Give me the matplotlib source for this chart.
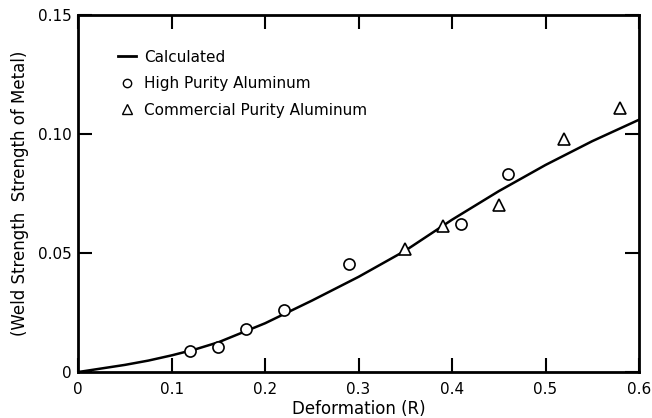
import matplotlib.pyplot as plt
from matplotlib.lines import Line2D

# calculated curve
calc_x = [0.0, 0.025, 0.05, 0.075, 0.10, 0.125, 0.15, 0.175, 0.20, 0.25, 0.30, 0.35, 0.40, 0.45, 0.50, 0.55, 0.60]
calc_y = [0.0, 0.0015, 0.003, 0.0048, 0.007, 0.0095, 0.0125, 0.0165, 0.0205, 0.030, 0.040, 0.051, 0.064, 0.076, 0.087, 0.097, 0.106]

# high purity aluminum (circles)
hp_x = [0.12, 0.15, 0.18, 0.22, 0.29, 0.41, 0.46]
hp_y = [0.009, 0.0105, 0.018, 0.026, 0.0455, 0.062, 0.083]

# commercial purity aluminum (triangles)
cp_x = [0.35, 0.39, 0.45, 0.52, 0.58]
cp_y = [0.0515, 0.0615, 0.070, 0.098, 0.111]

plt.rcParams['font.family'] = 'DejaVu Sans'
fig = plt.figure(figsize=(6.52, 4.18), dpi=100)
ax = fig.add_axes([0.12, 0.11, 0.86, 0.854])

ax.plot(calc_x, calc_y, color='black', lw=1.8)
ax.plot(hp_x, hp_y, 'o', mfc='white', mec='black', ms=8, mew=1.2)
ax.plot(cp_x, cp_y, '^', mfc='white', mec='black', ms=9, mew=1.2)

ax.set_xlim(0, 0.6)
ax.set_ylim(0, 0.15)
ax.set_xticks([0, 0.1, 0.2, 0.3, 0.4, 0.5, 0.6])
ax.set_xticklabels(['0', '0.1', '0.2', '0.3', '0.4', '0.5', '0.6'])
ax.set_yticks([0, 0.05, 0.10, 0.15])
ax.set_yticklabels(['0', '0.05', '0.10', '0.15'])
ax.tick_params(direction='in', length=10, width=1.5, labelsize=11,
               top=True, right=True)
ax.tick_params(axis='x', pad=7)
ax.tick_params(axis='y', pad=5)
for s in ax.spines.values():
    s.set_linewidth(2)

ax.set_xlabel('Deformation (R)', fontsize=12, labelpad=2)
ax.set_ylabel('(Weld Strength  Strength of Metal)', fontsize=12, labelpad=6)

handles = [
    Line2D([], [], color='black', lw=2),
    Line2D([], [], marker='o', ls='none', mfc='white', mec='black', ms=6),
    Line2D([], [], marker='^', ls='none', mfc='white', mec='black', ms=7),
]
ax.legend(handles, ['Calculated', 'High Purity Aluminum', 'Commercial Purity Aluminum'],
          loc='upper left', bbox_to_anchor=(0.06, 0.92), borderaxespad=0, frameon=False,
          fontsize=11, handlelength=1.2, handletextpad=0.5, labelspacing=0.75)

fig.savefig('out.png', dpi=100)
